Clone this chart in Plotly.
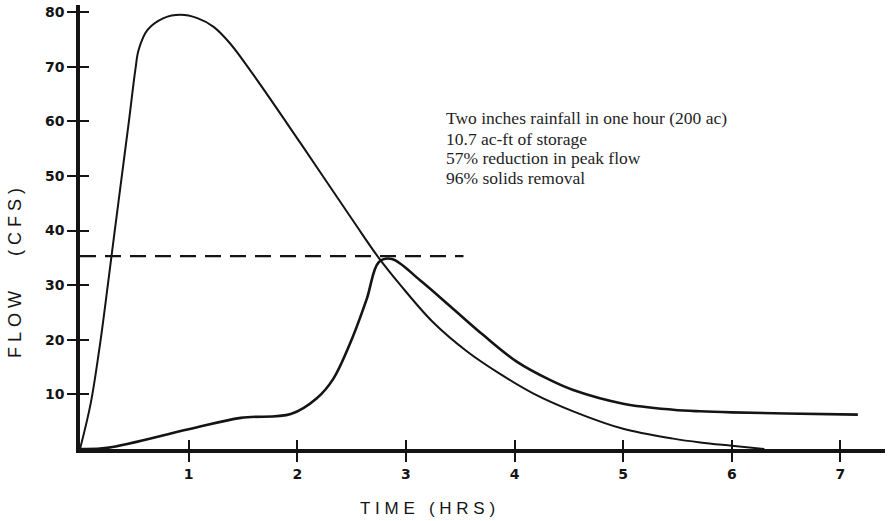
import plotly.graph_objects as go

# Inflow hydrograph (time in hours, flow in cfs)
inflow_t = [0, 0.1, 0.19, 0.256, 0.32, 0.385, 0.45, 0.51, 0.54, 0.62, 0.77, 0.925,
            1.08, 1.23, 1.38, 1.6, 2.03, 2.52, 2.75, 2.95, 3.25, 3.56, 3.87,
            4.17, 4.54, 5.0, 5.46, 5.71, 6.0, 6.3]
inflow_q = [0, 8.5, 20, 30, 40, 50, 60, 69.5, 73.1, 76.7, 78.9, 79.5,
            78.9, 77.3, 74.3, 68.4, 56.0, 41.6, 35.0, 30.0, 23.2, 17.9, 13.7,
            10.2, 6.9, 3.7, 1.9, 1.2, 0.6, 0]

# Outflow hydrograph
outflow_t = [0, 0.25, 1.0, 1.48, 1.94, 2.18, 2.33, 2.5, 2.64, 2.75, 2.87, 3.13, 3.41,
             3.71, 4.02, 4.33, 4.54, 5.0, 5.46, 5.71, 6.0, 6.5, 7.16]
outflow_q = [0, 0.2, 3.6, 5.7, 6.4, 9.3, 12.8, 20.0, 27.5, 34.2, 34.8, 30.9, 26.1,
             20.9, 16.0, 12.6, 10.8, 8.3, 7.2, 6.9, 6.7, 6.5, 6.3]

# Peak-flow limit line
limit_t = [0, 3.53]
limit_q = [35.3, 35.3]

x_ticks = [1, 2, 3, 4, 5, 6, 7]
y_ticks = [10, 20, 30, 40, 50, 60, 70, 80]

notes = [
    "Two inches rainfall in one hour (200 ac)",
    "10.7 ac-ft of storage",
    "57% reduction in peak flow",
    "96% solids removal",
]

INK = "#141414"
fig = go.Figure()
fig.add_trace(go.Scatter(x=inflow_t, y=inflow_q, mode="lines",
                         line=dict(color=INK, width=2.0, shape="spline", smoothing=1.0),
                         hoverinfo="skip", showlegend=False))
fig.add_trace(go.Scatter(x=outflow_t, y=outflow_q, mode="lines",
                         line=dict(color=INK, width=2.6, shape="spline", smoothing=1.0),
                         hoverinfo="skip", showlegend=False))
fig.add_trace(go.Scatter(x=limit_t, y=limit_q, mode="lines", xaxis="x2", yaxis="y2",
                         line=dict(color=INK, width=2.2, dash="16px,9px"),
                         hoverinfo="skip", showlegend=False))

XR = [0, 7.41]
YR = [0, 81.3]
tickfont = dict(family="DejaVu Sans", size=14, color=INK, weight="bold")

fig.update_layout(
    width=890, height=521,
    margin=dict(l=80, r=5, t=5, b=72),
    paper_bgcolor="white", plot_bgcolor="white",
    xaxis=dict(range=XR, tickvals=x_ticks, ticktext=[str(v) for v in x_ticks],
               ticks="outside", ticklen=9, tickwidth=1.6, tickcolor=INK,
               showline=True, linewidth=3.5, linecolor=INK, showgrid=False,
               zeroline=False, tickfont=tickfont, fixedrange=True),
    yaxis=dict(range=YR, tickvals=y_ticks, ticktext=[str(v) for v in y_ticks],
               ticks="outside", ticklen=9, tickwidth=1.6, tickcolor=INK,
               showline=True, linewidth=3.5, linecolor=INK, showgrid=False,
               zeroline=False, tickfont=tickfont, fixedrange=True),
    xaxis2=dict(range=XR, overlaying="x", tickvals=x_ticks, ticks="inside", ticklen=9,
                tickwidth=1.6, tickcolor=INK, showticklabels=False, showline=False,
                showgrid=False, zeroline=False, side="bottom", fixedrange=True),
    yaxis2=dict(range=YR, overlaying="y", tickvals=y_ticks, ticks="inside", ticklen=9,
                tickwidth=1.6, tickcolor=INK, showticklabels=False, showline=False,
                showgrid=False, zeroline=False, side="left", fixedrange=True),
)

NB = "\u00a0"
fig.add_annotation(text=NB.join("TIME") + NB * 3 + NB.join("(HRS)"),
                   xref="paper", yref="paper", x=(427 - 80) / 805, y=(449 - 508) / 444,
                   xanchor="center", yanchor="middle", showarrow=False,
                   font=dict(family="Liberation Sans", size=17, color=INK))
fig.add_annotation(text=NB.join("FLOW") + NB * 7 + NB.join("(CFS)"),
                   xref="paper", yref="paper", x=(15 - 80) / 805, y=(449 - 273) / 444,
                   xanchor="center", yanchor="middle", textangle=-90, showarrow=False,
                   font=dict(family="Liberation Sans", size=18, color=INK))

line_centers = [117.5, 138.5, 158.5, 178.5]
for txt, py in zip(notes, line_centers):
    fig.add_annotation(text=txt, xref="paper", yref="paper",
                       x=(444 - 80) / 805, y=(449 - py) / 444,
                       xanchor="left", yanchor="middle", showarrow=False,
                       font=dict(family="Liberation Serif", size=17.5, color="#1e1e1e"))

fig.write_html("out.html")
